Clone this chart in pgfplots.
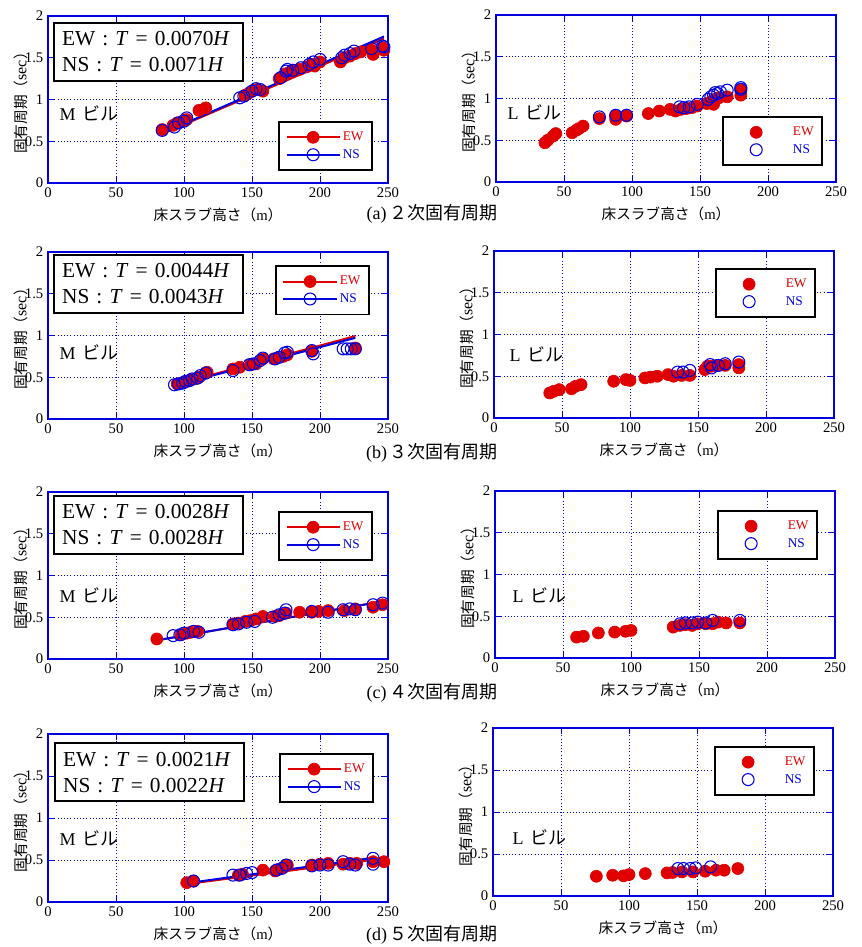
\documentclass[border=0pt]{standalone}
\usepackage{pgfplots}
\pgfplotsset{compat=1.18}
\usepackage{fontspec}
\setmainfont{Liberation Serif}
\newfontfamily\cjk{Noto Sans CJK JP}
\definecolor{myred}{RGB}{225,0,0}
\definecolor{myblue}{RGB}{0,0,225}
\tikzset{
  eqbox/.style={draw=black, line width=1.5pt, fill=white, anchor=north west, align=left, inner xsep=6pt, inner ysep=4pt, text width=130pt, minimum height=43.5pt, font=\fontsize{16}{19.5}\selectfont},
  bld/.style={anchor=west, font=\fontsize{13.5}{14}\selectfont},
}
\pgfplotsset{
  base/.style={
    scale only axis, width=255pt, height=125.25pt,
    xmin=0,xmax=250,ymin=0,ymax=2,
    xtick={0,50,...,250}, ytick={0,0.5,1,1.5,2},
    grid=major, major grid style={myblue, dotted, line width=0.7pt},
    axis line style={myblue, line width=0.8pt},
    tick style={myblue, line width=0.6pt},
    tick align=inside,
    ticklabel style={font=\fontsize{11}{11}\selectfont, black},
    /pgf/number format/assume math mode=true,
    xlabel={{\cjk 床スラブ高さ（}m{\cjk ）}},
    ylabel={{\cjk 固有周期（}{\fontsize{12}{12}\selectfont sec}{\cjk ）}},
    label style={font=\fontsize{11}{11}\selectfont},
    xlabel style={at={(axis description cs:0.5,0)}, anchor=center, yshift=-24pt},
    ylabel style={at={(axis description cs:-0.08,0.5)}, anchor=center},
    clip=false,
    legend cell align=left,
    legend style={draw=black, line width=1.2pt, fill=white, inner xsep=5pt, inner ysep=6pt, row sep=2pt,
      font=\fontsize{10}{12}\selectfont, nodes={inner sep=1.5pt}},
  },
  ew/.style={only marks, mark=*, mark size=4.5pt, color=myred, mark options={fill=myred, draw=myred, line width=0.5pt}, forget plot},
  ns/.style={only marks, mark=o, mark size=4.5pt, color=myblue, mark options={line width=0.8pt, fill=none}, forget plot},
  ewl/.style={myred, line width=1.5pt, no marks, forget plot},
  nsl/.style={myblue, line width=1.5pt, no marks, forget plot},
  myimg/.style={legend image code/.code={\path[draw=none] (0pt,0pt) (40pt,0pt); \draw[mark repeat=2,mark phase=2,##1] plot coordinates {(0pt,0pt)(20pt,0pt)(40pt,0pt)};}},
  myimgM/.style={legend image code/.code={\path[draw=none] (0pt,0pt) (40pt,0pt); \draw[##1, /tikz/only marks] plot coordinates {(20pt,0pt)};}},
}
\newcommand{\legM}{%
  \addlegendimage{myred, mark=*, line width=1.5pt, mark size=4.5pt, mark options={fill=myred, line width=0.5pt}, myimg}
  \addlegendentry{\textcolor{myred}{EW}}
  \addlegendimage{myblue, mark=o, line width=1.5pt, mark size=4.5pt, mark options={fill=white, line width=0.8pt}, myimg}
  \addlegendentry{\textcolor{myblue}{NS}}}
\newcommand{\legL}{%
  \addlegendimage{myred, mark=*, mark size=4.5pt, mark options={fill=myred, line width=0.5pt}, myimgM}
  \addlegendentry{\hspace{6pt}\textcolor{myred}{EW}}
  \addlegendimage{myblue, mark=o, mark size=4.5pt, mark options={line width=0.8pt}, myimgM}
  \addlegendentry{\hspace{6pt}\textcolor{myblue}{NS}}}
\begin{document}
\begin{tikzpicture}
\useasboundingbox (0,0) rectangle (646.5pt,-710.25pt);
% ---------------- Row (a) ----------------
\begin{axis}[base, at={(48*0.75pt,-183*0.75pt)}, anchor=south west,
  legend style={at={(0.956,0.072)}, anchor=south east}]
\legM
\addplot[ew] coordinates {(84,0.64) (92,0.69) (95,0.72) (98,0.73) (100,0.75) (102,0.76) (111,0.87) (116,0.90) (145,1.05) (148,1.08) (151,1.11) (154,1.12) (158,1.10) (170,1.25) (172,1.27) (175,1.31) (178,1.33) (181,1.35) (185,1.36) (190,1.39) (194,1.42) (196,1.40) (200,1.45) (215,1.45) (218,1.50) (222,1.52) (226,1.55) (230,1.57) (238,1.59) (239,1.54) (246,1.62) (247,1.59)};
\addplot[ns] coordinates {(84,0.63) (93,0.67) (96,0.72) (100,0.74) (102,0.78) (141,1.02) (144,1.04) (150,1.10) (153,1.13) (156,1.12) (171,1.26) (175,1.34) (176,1.36) (180,1.35) (186,1.38) (192,1.42) (195,1.45) (200,1.48) (216,1.50) (218,1.53) (222,1.55) (225,1.58) (238,1.61) (246,1.64) (247,1.63)};
\addplot[ewl] coordinates {(84,0.588) (247,1.729)};
\addplot[nsl] coordinates {(84,0.596) (247,1.754)};
\node[eqbox] at (axis description cs:0.015,0.964) {EW : \textit{T} = 0.0070\textit{H}\\NS : \textit{T} = 0.0071\textit{H}};
\node[bld] at (axis cs:5,0.83) {M\hspace{5pt}{\cjk ビル}};
\end{axis}
\begin{axis}[base, at={(496*0.75pt,-182*0.75pt)}, anchor=south west,
  legend style={at={(0.962,0.096)}, anchor=south east}]
\legL
\addplot[ew] coordinates {(36,0.47) (38,0.50) (42,0.55) (44,0.58) (56,0.59) (59,0.62) (61,0.64) (64,0.67) (76,0.76) (88,0.79) (88,0.75) (96,0.79) (112,0.82) (120,0.85) (128,0.87) (132,0.85) (136,0.87) (140,0.88) (144,0.89) (148,0.91) (155,0.94) (158,0.96) (160,0.93) (161,0.99) (164,1.01) (170,1.02) (180,1.04) (180,1.10)};
\addplot[ns] coordinates {(76,0.78) (88,0.80) (96,0.80) (135,0.90) (138,0.89) (142,0.90) (148,0.93) (156,0.99) (158,1.02) (160,1.04) (161,1.07) (163,1.06) (165,1.08) (170,1.10) (180,1.13) (180,1.11)};
\node[bld] at (axis cs:5,0.83) {L\hspace{5pt}{\cjk ビル}};
\end{axis}
\node[font=\fontsize{13.5}{14}\selectfont] at (432*0.75pt,-214*0.75pt) {(a)\,{\cjk ２次固有周期}};
% ---------------- Row (b) ----------------
\begin{axis}[base, at={(48*0.75pt,-419*0.75pt)}, anchor=south west,
  legend style={at={(0.947,0.92)}, anchor=north east}]
\legM
\addplot[ew] coordinates {(95,0.42) (98,0.43) (100,0.44) (102,0.45) (105,0.47) (108,0.48) (111,0.50) (116,0.55) (117,0.56) (136,0.60) (141,0.62) (149,0.65) (153,0.66) (158,0.72) (166,0.72) (170,0.74) (173,0.75) (176,0.77) (194,0.81) (226,0.85)};
\addplot[ns] coordinates {(93,0.41) (96,0.42) (99,0.43) (101,0.45) (104,0.46) (106,0.48) (110,0.49) (112,0.52) (116,0.55) (136,0.58) (148,0.65) (151,0.66) (156,0.70) (158,0.73) (167,0.72) (170,0.74) (174,0.79) (176,0.80) (194,0.82) (195,0.78) (217,0.84) (220,0.84) (223,0.84) (226,0.84)};
\addplot[ewl] coordinates {(95,0.418) (226,0.994)};
\addplot[nsl] coordinates {(93,0.400) (226,0.972)};
\node[eqbox] at (axis description cs:0.015,0.99) {EW : \textit{T} = 0.0044\textit{H}\\NS : \textit{T} = 0.0043\textit{H}};
\node[bld] at (axis cs:5,0.80) {M\hspace{5pt}{\cjk ビル}};
\end{axis}
\begin{axis}[base, at={(494*0.75pt,-418*0.75pt)}, anchor=south west,
  legend style={at={(0.947,0.898)}, anchor=north east}]
\legL
\addplot[ew] coordinates {(41,0.30) (44,0.32) (48,0.34) (57,0.35) (60,0.38) (64,0.40) (88,0.44) (97,0.46) (100,0.45) (111,0.48) (115,0.49) (120,0.50) (128,0.52) (132,0.50) (138,0.51) (144,0.51) (155,0.58) (157,0.62) (160,0.62) (164,0.63) (170,0.63) (180,0.64) (180,0.60)};
\addplot[ns] coordinates {(135,0.55) (139,0.55) (144,0.57) (159,0.64) (160,0.60) (165,0.63) (170,0.65) (180,0.67)};
\node[bld] at (axis cs:8,0.76) {L\hspace{5pt}{\cjk ビル}};
\end{axis}
\node[font=\fontsize{13.5}{14}\selectfont] at (432*0.75pt,-453*0.75pt) {(b)\,{\cjk ３次固有周期}};
% ---------------- Row (c) ----------------
\begin{axis}[base, at={(48*0.75pt,-659*0.75pt)}, anchor=south west,
  legend style={at={(0.956,0.886)}, anchor=north east}]
\legM
\addplot[ew] coordinates {(80,0.24) (98,0.29) (102,0.31) (105,0.32) (110,0.33) (136,0.42) (140,0.43) (145,0.45) (149,0.46) (153,0.48) (158,0.51) (167,0.51) (170,0.52) (175,0.55) (185,0.56) (194,0.56) (199,0.57) (206,0.58) (218,0.58) (226,0.60) (239,0.62) (246,0.65)};
\addplot[ns] coordinates {(92,0.28) (97,0.29) (100,0.31) (107,0.33) (111,0.32) (136,0.41) (140,0.42) (146,0.44) (152,0.45) (165,0.50) (170,0.53) (174,0.55) (175,0.59) (194,0.57) (206,0.56) (217,0.59) (222,0.60) (226,0.59) (239,0.65) (246,0.67)};
\addplot[ewl] coordinates {(80,0.224) (247,0.692)};
\addplot[nsl] coordinates {(80,0.224) (247,0.692)};
\node[eqbox] at (axis description cs:0.015,0.982) {EW : \textit{T} = 0.0028\textit{H}\\NS : \textit{T} = 0.0028\textit{H}};
\node[bld] at (axis cs:5,0.76) {M\hspace{5pt}{\cjk ビル}};
\end{axis}
\begin{axis}[base, at={(495*0.75pt,-658*0.75pt)}, anchor=south west,
  legend style={at={(0.95,0.886)}, anchor=north east}]
\legL
\addplot[ew] coordinates {(60,0.25) (65,0.26) (76,0.30) (88,0.31) (96,0.32) (100,0.33) (131,0.37) (136,0.39) (140,0.40) (145,0.39) (149,0.41) (155,0.41) (160,0.41) (164,0.43) (170,0.42) (180,0.42)};
\addplot[ns] coordinates {(136,0.41) (140,0.42) (145,0.42) (149,0.43) (155,0.42) (160,0.45) (180,0.45)};
\node[bld] at (axis cs:9.5,0.75) {L\hspace{5pt}{\cjk ビル}};
\end{axis}
\node[font=\fontsize{13.5}{14}\selectfont] at (432*0.75pt,-693*0.75pt) {(c)\,{\cjk ４次固有周期}};
% ---------------- Row (d) ----------------
\begin{axis}[base, at={(48*0.75pt,-902*0.75pt)}, anchor=south west, height=126pt,
  legend style={at={(0.959,0.887)}, anchor=north east}]
\legM
\addplot[ew] coordinates {(102,0.23) (107,0.25) (140,0.32) (143,0.33) (158,0.38) (167,0.37) (170,0.39) (174,0.42) (176,0.44) (194,0.44) (200,0.45) (206,0.46) (217,0.45) (222,0.46) (227,0.46) (239,0.48) (247,0.48)};
\addplot[ns] coordinates {(107,0.25) (136,0.32) (141,0.32) (146,0.34) (150,0.35) (168,0.38) (172,0.40) (175,0.44) (194,0.43) (200,0.44) (206,0.44) (217,0.48) (222,0.45) (226,0.44) (239,0.52) (239,0.45)};
\addplot[ewl] coordinates {(102,0.214) (248,0.521)};
\addplot[nsl] coordinates {(106,0.233) (239,0.526)};
\node[eqbox] at (axis description cs:0.018,0.952) {EW : \textit{T} = 0.0021\textit{H}\\NS : \textit{T} = 0.0022\textit{H}};
\node[bld] at (axis cs:5,0.76) {M\hspace{5pt}{\cjk ビル}};
\end{axis}
\begin{axis}[base, at={(493*0.75pt,-896*0.75pt)}, anchor=south west, height=126pt,
  legend style={at={(0.947,0.893)}, anchor=north east}]
\legL
\addplot[ew] coordinates {(76,0.235) (88,0.247) (96,0.24) (100,0.255) (112,0.267) (128,0.275) (132,0.28) (139,0.287) (147,0.287) (156,0.295) (164,0.307) (170,0.307) (180,0.327)};
\addplot[ns] coordinates {(136,0.327) (140,0.327) (145,0.327) (149,0.335) (160,0.347)};
\node[bld] at (axis cs:11,0.70) {L\hspace{5pt}{\cjk ビル}};
\end{axis}
\node[font=\fontsize{13.5}{14}\selectfont] at (432*0.75pt,-935*0.75pt) {(d)\,{\cjk ５次固有周期}};
\end{tikzpicture}
\end{document}
